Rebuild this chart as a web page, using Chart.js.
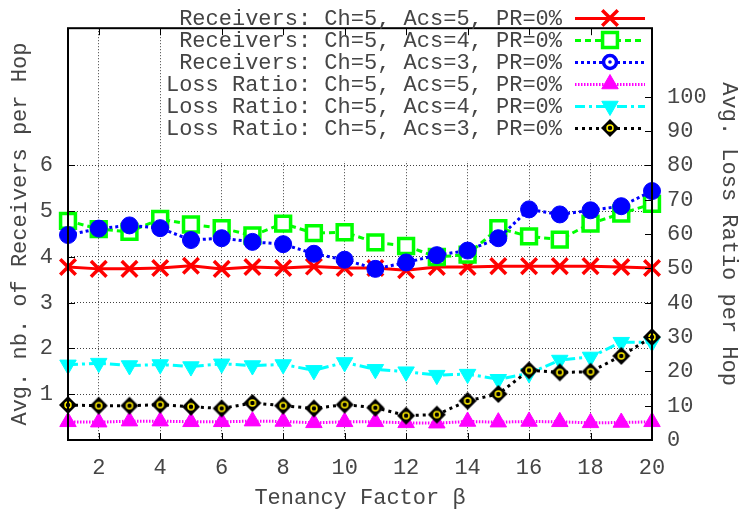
<!DOCTYPE html>
<html><head><meta charset="utf-8">
<script src="https://cdn.jsdelivr.net/npm/chart.js@4/dist/chart.umd.min.js"></script>
<style>html,body{margin:0;padding:0;background:#fff}#wrap{width:742px;height:516px}</style>
</head><body><div id="wrap"><canvas id="c" width="742" height="516"></canvas></div>
<script>
// ---- data ----
const tenancy = [1,2,3,4,5,6,7,8,9,10,11,12,13,14,15,16,17,18,19,20];
const xTickValues = [2,4,6,8,10,12,14,16,18,20];
const leftTickValues = [1,2,3,4,5,6];
const rightTickValues = [0,10,20,30,40,50,60,70,80,90,100];
const seriesNames = [
  'Receivers: Ch=5, Acs=5, PR=0%',
  'Receivers: Ch=5, Acs=4, PR=0%',
  'Receivers: Ch=5, Acs=3, PR=0%',
  'Loss Ratio: Ch=5, Acs=5, PR=0%',
  'Loss Ratio: Ch=5, Acs=4, PR=0%',
  'Loss Ratio: Ch=5, Acs=3, PR=0%'
];
const recvAcs5 = [3.78,3.74,3.74,3.76,3.81,3.74,3.78,3.76,3.79,3.76,3.76,3.71,3.78,3.78,3.80,3.80,3.80,3.80,3.78,3.76];
const recvAcs4 = [4.79,4.61,4.55,4.83,4.71,4.63,4.47,4.73,4.52,4.54,4.32,4.24,4.00,4.05,4.63,4.45,4.38,4.73,4.95,5.16];
const recvAcs3 = [4.48,4.62,4.69,4.63,4.37,4.41,4.33,4.28,4.07,3.94,3.74,3.88,4.04,4.14,4.41,5.04,4.93,5.02,5.11,5.44];
const lossAcs5 = [5.3,5.2,5.5,5.5,5.3,5.3,5.5,5.4,5.0,5.3,5.3,5.0,4.9,5.4,5.2,5.4,5.3,5.0,5.1,5.3];
const lossAcs4 = [21.9,22.4,21.7,22.0,21.4,22.2,21.7,22.0,20.3,22.6,20.6,19.9,18.9,19.2,17.7,19.4,23.3,24.2,28.5,28.5];
const lossAcs3 = [10.2,10.0,10.0,10.3,9.7,9.2,10.8,10.0,9.2,10.3,9.4,7.1,7.4,11.4,13.4,20.3,19.7,19.9,24.5,30.0];

// ---- styling ----
const FONT = '"Liberation Mono", "Courier New", monospace';
const FS = 22;
const TXT = '#454545';
Chart.defaults.font.family = FONT;
Chart.defaults.font.size = FS;
Chart.defaults.color = TXT;

function diamondMarker(){
  const c = document.createElement('canvas');
  c.width = 20; c.height = 20;
  const g = c.getContext('2d');
  g.fillStyle = '#000';
  g.beginPath(); g.moveTo(10,1); g.lineTo(19,10); g.lineTo(10,19); g.lineTo(1,10); g.closePath(); g.fill();
  g.strokeStyle = '#ffee00'; g.lineWidth = 1.5;
  g.beginPath(); g.arc(10,10,3,0,Math.PI*2); g.stroke();
  return c;
}
const diamond = diamondMarker();

const pts = arr => tenancy.map((x,i)=>({x:x, y:arr[i]}));
const base = {fill:false, tension:0, clip:false, borderWidth:3, borderCapStyle:'butt'};
const datasets = [
  Object.assign({}, base, {label:seriesNames[0], data:pts(recvAcs5), yAxisID:'y', borderColor:'#ff0000', backgroundColor:'#ff0000', pointStyle:'crossRot', pointRadius:11, pointBorderWidth:3.5, order:5}),
  Object.assign({}, base, {label:seriesNames[1], data:pts(recvAcs4), yAxisID:'y', borderColor:'#00ff00', backgroundColor:'#ffffff', pointBackgroundColor:'#ffffff', pointStyle:'rect', pointRadius:10.5, pointBorderWidth:3.5, borderDash:[6,4], order:4}),
  Object.assign({}, base, {label:seriesNames[2], data:pts(recvAcs3), yAxisID:'y', borderColor:'#0000ff', backgroundColor:'#0000ff', pointStyle:'circle', pointRadius:8.5, pointBorderWidth:1, borderDash:[3,3], order:3}),
  Object.assign({}, base, {label:seriesNames[3], data:pts(lossAcs5), yAxisID:'y1', borderColor:'#ff00ff', backgroundColor:'#ff00ff', pointStyle:'triangle', pointRadius:9.5, pointBorderWidth:1, borderDash:[1.5,1.5], order:2}),
  Object.assign({}, base, {label:seriesNames[4], data:pts(lossAcs4), yAxisID:'y1', borderColor:'#00ffff', backgroundColor:'#00ffff', pointStyle:'triangle', pointRotation:180, pointRadius:9.5, pointBorderWidth:1, borderDash:[10,4,3,4], order:1}),
  Object.assign({}, base, {label:seriesNames[5], data:pts(lossAcs3), yAxisID:'y1', borderColor:'#000000', backgroundColor:'#000000', pointStyle:diamond, pointRadius:9, borderDash:[3,4], order:0})
];

const GRID = 'rgba(0,0,0,0.75)';
const LEG_TEXT_RIGHT = 562, LEG_LINE_L = 575, LEG_LINE_R = 645, LEG_MARK_X = 610, LEG_Y0 = 18, LEG_DY = 22;

const framePlugin = {
  id:'frame',
  beforeDatasetsDraw(chart){
    const {ctx, chartArea:a} = chart;
    ctx.save();
    ctx.fillStyle = '#fff';
    ctx.fillRect(163, a.top + 1, a.right - 164, 132);
    ctx.restore();
  },
  afterDatasetsDraw(chart){
    const {ctx, chartArea:a, scales} = chart;
    ctx.save();
    // border
    ctx.strokeStyle = '#000'; ctx.lineWidth = 2; ctx.setLineDash([]);
    ctx.strokeRect(a.left, a.top, a.right - a.left, a.bottom - a.top);
    // inward tick marks
    ctx.lineWidth = 1;
    ctx.beginPath();
    xTickValues.forEach(v=>{
      const px = Math.round(scales.x.getPixelForValue(v)) + 0.5;
      ctx.moveTo(px, a.bottom); ctx.lineTo(px, a.bottom - 7);
      ctx.moveTo(px, a.top); ctx.lineTo(px, a.top + 7);
    });
    leftTickValues.forEach(v=>{
      const py = Math.round(scales.y.getPixelForValue(v)) + 0.5;
      ctx.moveTo(a.left, py); ctx.lineTo(a.left + 7, py);
    });
    rightTickValues.forEach(v=>{
      const py = Math.round(scales.y1.getPixelForValue(v)) + 0.5;
      ctx.moveTo(a.right, py); ctx.lineTo(a.right - 7, py);
    });
    ctx.stroke();
    // legend
    ctx.font = FS + 'px ' + FONT;
    ctx.textAlign = 'right'; ctx.textBaseline = 'middle';
    chart.data.datasets.forEach((ds, i)=>{
      const y = LEG_Y0 + i * LEG_DY;
      ctx.fillStyle = TXT;
      ctx.fillText(ds.label, LEG_TEXT_RIGHT, y + 1);
      ctx.strokeStyle = ds.borderColor; ctx.lineWidth = ds.borderWidth;
      ctx.lineCap = 'butt';
      ctx.setLineDash(ds.borderDash || []);
      ctx.beginPath(); ctx.moveTo(LEG_LINE_L, y + 0.5); ctx.lineTo(LEG_LINE_R, y + 0.5); ctx.stroke();
      ctx.setLineDash([]);
      if (i === 2) {
        ctx.fillStyle = '#fff'; ctx.strokeStyle = ds.borderColor; ctx.lineWidth = 3.5;
        ctx.beginPath(); ctx.arc(LEG_MARK_X, y, 6.5, 0, Math.PI*2); ctx.fill(); ctx.stroke();
        ctx.fillStyle = ds.borderColor;
        ctx.beginPath(); ctx.arc(LEG_MARK_X, y, 1.8, 0, Math.PI*2); ctx.fill();
      } else {
        ctx.fillStyle = ds.pointBackgroundColor || ds.backgroundColor;
        ctx.strokeStyle = ds.borderColor;
        ctx.lineWidth = ds.pointBorderWidth || 1;
        Chart.helpers.drawPoint(ctx, {pointStyle: ds.pointStyle, radius: ds.pointRadius, rotation: ds.pointRotation || 0, borderWidth: ds.pointBorderWidth || 1}, LEG_MARK_X, y);
      }
    });
    ctx.restore();
  }
};

new Chart(document.getElementById('c'), {
  type:'line',
  data:{datasets:datasets},
  plugins:[framePlugin],
  options:{
    responsive:false, animation:false, devicePixelRatio:1,
    layout:{padding:{top:7,left:0,right:0,bottom:0}},
    plugins:{legend:{display:false}, tooltip:{enabled:false}},
    scales:{
      x:{
        type:'linear', position:'bottom', min:1, max:20,
        afterBuildTicks: s => { s.ticks = xTickValues.map(v=>({value:v})); },
        afterFit: s => { s.height = 76; },
        grid:{drawTicks:false, color: c => (c.tick && c.tick.value < 20) ? GRID : 'rgba(0,0,0,0)', lineWidth:1},
        border:{display:false, dash:[1,2]},
        ticks:{padding:15, autoSkip:false, maxRotation:0, color:TXT},
        title:{display:true, text:'Tenancy Factor β', color:TXT, padding:{top:0,bottom:5}}
      },
      y:{
        type:'linear', position:'left', min:0, max:9,
        afterBuildTicks: s => { s.ticks = [0,1,2,3,4,5,6,7,8,9].map(v=>({value:v})); },
        afterFit: s => { s.width = 68; },
        grid:{drawTicks:false, color: c => (c.tick && c.tick.value >= 1 && c.tick.value <= 6) ? GRID : 'rgba(0,0,0,0)', lineWidth:1},
        border:{display:false, dash:[1,2]},
        ticks:{padding:15, autoSkip:false, color:TXT, callback: v => leftTickValues.includes(v) ? String(v) : ''},
        title:{display:true, text:'Avg. nb. of Receivers per Hop', color:TXT, padding:{top:7,bottom:0}}
      },
      y1:{
        type:'linear', position:'right', min:0, max:120,
        afterBuildTicks: s => { s.ticks = [0,10,20,30,40,50,60,70,80,90,100,110,120].map(v=>({value:v})); },
        afterFit: s => { s.width = 90; },
        grid:{display:false, drawTicks:false},
        border:{display:false},
        ticks:{padding:15, autoSkip:false, color:TXT, callback: v => rightTickValues.includes(v) ? String(v) : ''},
        title:{display:true, text:'Avg. Loss Ratio per Hop', color:TXT, padding:{top:0,bottom:0}}
      }
    }
  }
});
</script>
</body></html>
